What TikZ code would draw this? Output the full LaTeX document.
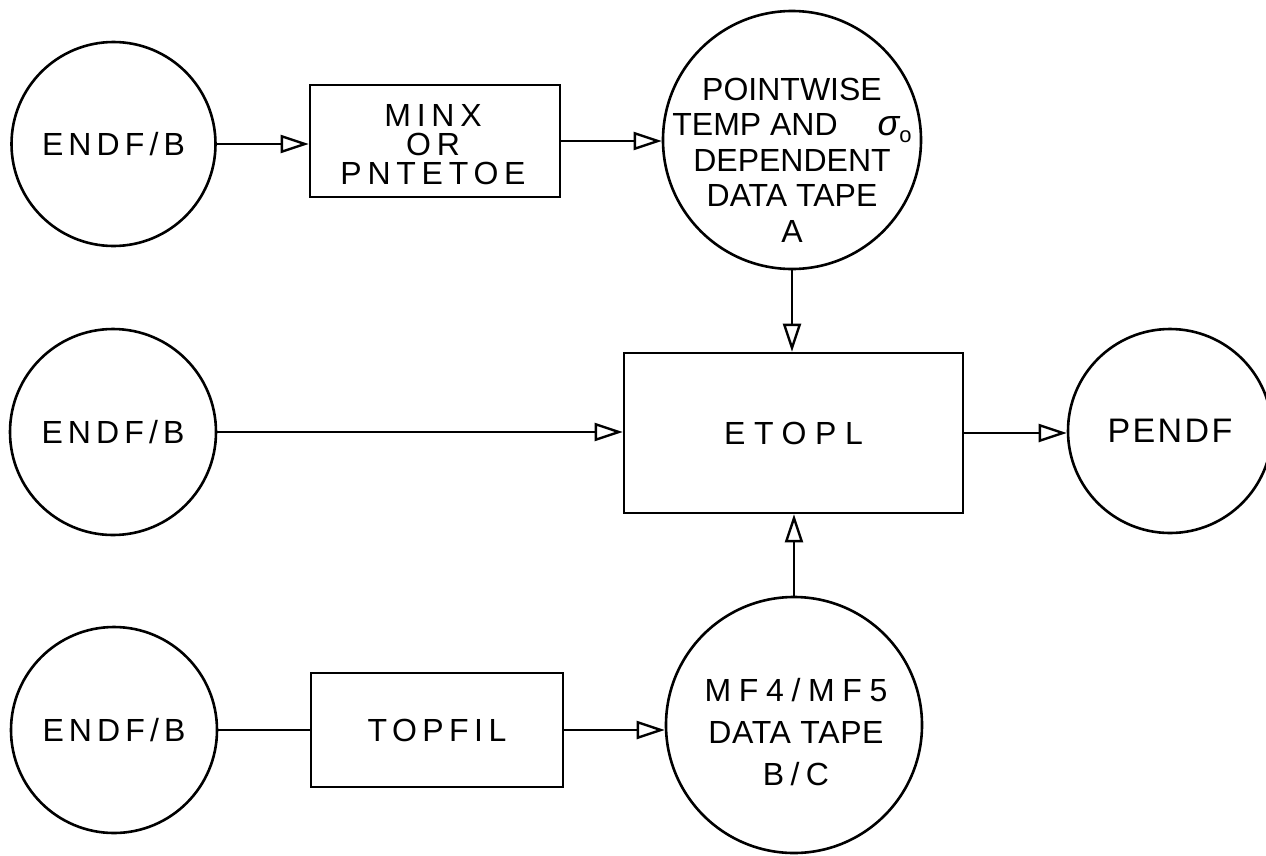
\documentclass[tikz,border=0pt]{standalone}
\usepackage{fontspec}
\setmainfont{Liberation Sans}
\usetikzlibrary{arrows.meta}
\newcommand\lsp[1]{\addfontfeature{LetterSpace=#1}}
\tikzset{
  shp/.style={draw, line width=2.6pt, inner sep=0pt},
  circ/.style={shp, circle, minimum size=#1, font=\fontsize{32}{36}\selectfont},
  boxx/.style={shp, rectangle},
  lbl/.style={font=\fontsize{32}{36}\selectfont, align=center, inner sep=0pt},
  arr/.style={line width=2.4pt, -{Triangle[open,length=28pt,width=18pt]}},
  ln/.style={line width=2.4pt}
}
\begin{document}
\begin{tikzpicture}[x=1pt,y=-1pt]
\useasboundingbox (0,0) rectangle (1266,855);
% top row
\node[circ=204pt] (e1) at (113.5,144) {\lsp{16}ENDF/B};
\node[boxx, minimum width=250pt, minimum height=112pt] (minx) at (435,141) {};
\node[lbl, font=\fontsize{32}{29}\selectfont] (minxt) at (433,145) {\lsp{18}MINX\\\lsp{18}OR\\\lsp{18}PNTETOE};
\node[circ=258pt] (pw) at (792,140) {};
\node[lbl, font=\fontsize{32}{35.5}\selectfont] (pwt) at (792,160)
  {POINTWISE\\TEMP AND\hspace{40pt}{\fontsize{36}{36}\selectfont\itshape σ}\raisebox{-7pt}{\fontsize{22}{22}\selectfont o}\\DEPENDENT\\DATA TAPE\\A};
% middle row
\node[circ=206pt] (e2) at (113,432) {\lsp{16}ENDF/B};
\node[boxx, minimum width=339pt, minimum height=160pt, font=\fontsize{32}{36}\selectfont] (etopl) at (793.5,433) {\lsp{27}ETOPL};
\node[circ=204pt, font=\fontsize{34}{38}\selectfont] (pendf) at (1170,431) {\lsp{7}PENDF};
% bottom row
\node[circ=206pt] (e3) at (114,730) {\lsp{16}ENDF/B};
\node[boxx, minimum width=252pt, minimum height=114pt, font=\fontsize{32}{36}\selectfont] (topfil) at (437,730) {\lsp{17}TOPFIL};
\node[circ=256pt] (mf) at (794,725) {};
\node[lbl, font=\fontsize{32}{42}\selectfont] (mft) at (796,732) {{\lsp{24}MF4/MF5}\\{\lsp{2}DATA TAPE}\\{\lsp{20}B/C}};
% connectors
\draw[arr] (e1.east) -- (e1.east -| minx.west);
\draw[arr] (minx.east) -- (minx.east -| pw.west);
\draw[arr] (pw.south) -- (pw.south |- etopl.north);
\draw[arr] (e2.east) -- (e2.east -| etopl.west);
\draw[arr] (etopl.east) -- (etopl.east -| pendf.west);
\draw[ln] (e3.east) -- (e3.east -| topfil.west);
\draw[arr] (topfil.east) -- (topfil.east -| mf.west);
\draw[arr] (mf.north) -- (mf.north |- etopl.south);
\end{tikzpicture}
\end{document}
